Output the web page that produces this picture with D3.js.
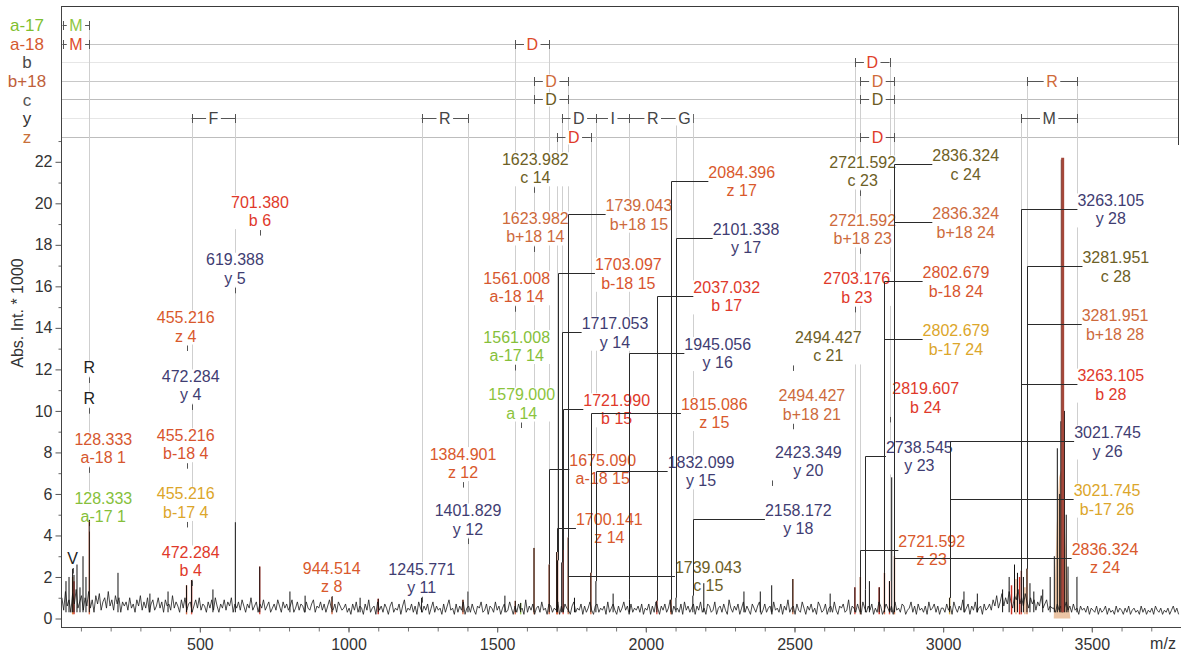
<!DOCTYPE html>
<html>
<head>
<meta charset="utf-8">
<script src="https://cdn.jsdelivr.net/npm/d3@7/dist/d3.min.js"></script>
<style>
  html, body { margin: 0; padding: 0; background: #fff; }
  text { font-family: "Liberation Sans", Arial, Helvetica, sans-serif; }
</style>
</head>
<body>
<svg id="chart" width="1182" height="655"></svg>
<script>
// ---------- spectrum data (m/z, intensity in units of 1000 counts) ----------
// baseline noise on a 6 m/z grid, one run per stretch: [first m/z, values in tenths]
const noiseStep = 6;
const noiseLowMass = [36, [10,4,13,6,9,3,12,7,14,5,8,11,4,10,6,13,5,9,3,11,7,12,4,8,10,5,13,6,9,4,11,7,10,3,8,6]];
const noiseMidMass = [252, [8,4,10,5,7,3,9,6,11,4,8,5,10,3,7,9,4,6,10,5,8,3,9,6,7,4,11,5,8,6,3,9,5,10,4,7,8,3,6,9,5,10,4,7,6,3,8,5,9,4,10,6,3,7,5,9,4,8,6,10,3,7,5,8,4,9,6,3,7,5,10,4,6,8,3,7,5,9,4,6,8,3,5,7,4,9,6,3,8,5,7,4,6,9,3,5,8,4,7,6,3,8,5,4,7,9,3,6,5,8,4,7,3,6,9,5,4,7,3,8,6,4,5,7,3,6,4]];
const noiseUpperMass = [1002, [5,2,7,4,8,3,6,5,2,7,4,9,3,5,6,2,8,4,6,3,7,5,2,6,8,3,5,4,7,2,6,9,3,5,4,7,3,6,2,8,5,3,6,4,7,2,5,8,3,6,4,5,2,7,3,6,9,4,5,2,7,3,6,4,8,2,5,6,3,7,4,2,6,5,8,3,4,7,2,6,5,3,8,4,6,2,5,7,3,4,8,5,2,6,3,7,4,5,2,9,3,6,4,7,2,5,6,3,8,4,5,2,7,6,3,5,4,8,2,6,3,7,5,4,2,6,8,3,5,4,7,2,6,3,5,8,4,2,6,7,3,5,4,6,2,8,3,5,7,4,2,6,3,5,8,4,6,2,7,3,5,4,6,3,7,2,5]];
const noiseHighMass = [2004, [4,7,2,6,3,8,5,2,6,4,7,3,5,9,2,6,4,5,3,7,2,8,4,6,3,5,7,2,6,4,8,3,5,2,7,6,3,4,8,2,5,6,3,7,4,2,9,5,3,6,4,7,2,5,8,3,6,4,2,7,5,3,6,8,2,4,7,3,5,6,2,8,4,5,3,7,2,6,4,9,3,5,6,2,7,4,3,8,5,2,6,4,7,3,5,2,8,6,3,4,7,2,5,6,3,8,4,2,6,5,7,3,4,9,2,6,5,3,7,4,2,8,5,3,6,4,7,2,5,3,8,6,2,4,7,5,3,6,2,8,4,5,3,7,6,2,4,5,8,3,6,2,7,4,5,3,6,2,8,4,5,7,3,6,2,5,4]];
const noiseNearPrecursor = [3000, [5,3,7,4,6,2,8,5,3,6,4,9,3,5,7,2,6,4,8,3,5,6,2,7,4,5]];
const noisePrecursorShoulder = [3156, [7,4,9,6,11,5,8,12,6,10,7,13,8,5,11,9,14,7,10,6,12,8,5,10,7,9,4,8,6,11,5,7,9,4,6,5]];
const noiseAbovePrecursor = [3372, [5,3,7,4,6,3,5,8,4,6,3,7,4,5,2,6,4,5,3,6,2,5,4,3,6,2,5,3,4,6,2,5,3,4,2,6,3,5,4,2,5,3,6,2,4,5,3,4,2,6,3,5,2,4,3,5,2,6,4,3,5,2,4,3,5,2,4,6,3,5,2]];

// peak apexes of the measured trace [m/z, intensity]
const peaks = [
  [49.8,1.8],[60,2.0],[72.08,2.4],[76.7,2.1],[86.8,2.6],[96.9,1.5],[107,3.0],[117,2.0],[128.333,4.75],
  [224.7,2.2],[332,1.2],[393,1.3],[455.216,1.6],[472.284,1.85],[544,1.4],[619.388,4.64],[701.38,2.5],
  [803,1.3],[854,1.1],[944.514,1.05],[1039,1.0],[1100,0.95],[1245.771,1.0],[1384.901,0.9],[1401.829,1.3],
  [1526,1.1],[1561.008,0.85],[1579,0.75],[1623.982,3.4],[1675.09,2.6],[1700.141,3.2],[1703.097,2.8],
  [1717.053,2.7],[1721.99,3.3],[1739.043,3.9],[1760,1.0],[1815.086,2.2],[1832.099,1.8],[1890,1.2],
  [1945.056,0.9],[2037.032,0.85],[2084.396,0.9],[2101.338,1.0],[2158.172,1.1],[2195,1.7],[2330,1.3],
  [2385,1.3],[2423.349,1.6],[2494.427,1.9],[2620,1.2],[2703.176,1.5],[2721.592,2.0],[2738.545,1.4],
  [2752,1.8],[2785,1.5],[2802.679,2.2],[2819.607,1.8],[2827,6.8],[2836.324,3.0],[3021.745,1.0],
  [3070,1.3],[3115,1.2],[3200,1.4],[3222,2.0],[3240,2.6],[3250,2.2],[3263.105,2.3],[3270,2.0],
  [3281.951,2.4],[3292,1.7],[3305,1.3],[3335,1.4],[3360,2.0],[3374,3.0],[3384,8.2],[3392,6.0],
  [3396,9.5],[3402,22.2],[3408,10.0],[3414,5.0],[3420,2.5],[3450,2.0]
];

// coloured sticks of matched / isotope peaks [m/z, intensity, colour key]
const colouredSticks = [
  [72.08,2.0,"orange"],[76.7,1.8,"red"],[1100,0.95,"red"],[2785,1.5,"red"],
  [3230,1.6,"red"],[3245,1.9,"tan"],[3257,2.0,"red"],[3275,1.5,"tan"]
];
const precursorPeak = [3402, 22.2];

// calculated isotope envelope of the precursor
const isotopeEnvelope = [[3372,0],[3382,4.5],[3390,6.8],[3398,7.2],[3404,6.4],[3412,3.6],[3422,0.8],[3428,0]];

// ---------- fragment annotations ----------
const annMz = [
  72.08,128.333,128.333,128.333,128.333,455.216,472.284,455.216,455.216,472.284,
  701.380,619.388,944.514,1245.771,1384.901,1401.829,1623.982,1623.982,1561.008,1561.008,
  1579.000,1739.043,1703.097,1717.053,1721.990,1675.090,1700.141,1739.043,2084.396,2101.338,
  2037.032,1945.056,1815.086,1832.099,2158.172,2721.592,2836.324,2721.592,2836.324,2703.176,
  2802.679,2494.427,2802.679,2494.427,2819.607,2423.349,2738.545,2721.592,2836.324,3263.105,
  3281.951,3281.951,3263.105,3021.745,3021.745
];
const annIon = [
  "V","R","R","a-18 1","a-17 1","z 4","y 4","b-18 4","b-17 4","b 4",
  "b 6","y 5","z 8","y 11","z 12","y 12","c 14","b+18 14","a-18 14","a-17 14",
  "a 14","b+18 15","b-18 15","y 14","b 15","a-18 15","z 14","c 15","z 17","y 17",
  "b 17","y 16","z 15","y 15","y 18","c 23","c 24","b+18 23","b+18 24","b 23",
  "b-18 24","c 21","b-17 24","b+18 21","b 24","y 20","y 23","z 23","z 24","y 28",
  "c 28","b+18 28","b 28","y 26","b-17 26"
];
// label anchor of each annotation [m/z, intensity] (centre of label, gap between its lines)
const annLabelAt = [
  [72.08,3.37],[128.3,12.55],[128.3,11.07],[175.3,8.22],[175.3,5.39],[452.4,14.09],[469.2,11.25],[452.4,8.42],[452.4,5.59],[469.2,2.77],
  [702.3,19.65],[618.2,16.87],[943.5,2.01],[1246.2,1.97],[1385.1,7.51],[1401.9,4.79],[1628.3,21.71],[1628.3,18.86],[1565.7,15.98],[1565.7,13.15],
  [1582.5,10.38],[1977,19.48],[1941.1,16.63],[1896.3,13.79],[1902,10.1],[1855,7.21],[1877.2,4.37],[2210.1,2.07],[2322.5,21.08],[2337,18.34],
  [2272,15.54],[2241.8,12.81],[2230.3,9.92],[2185.6,7.11],[2512.8,4.81],[2729.5,21.56],[3075.8,21.89],[2729.5,18.77],[3075.8,19.08],[2709.3,15.95],
  [3043.2,16.25],[2613.7,13.13],[3043.2,13.45],[2558.5,10.32],[2941.3,10.65],[2546.5,7.59],[2919.9,7.83],[2961.6,3.31],[3544.4,2.92],[3563.9,19.73],
  [3580.8,16.98],[3578.3,14.18],[3563.9,11.29],[3552.8,8.55],[3551.1,5.75]
];

// ---------- sequence ladder: [ion series, residue, start m/z, end m/z] ----------
const ladderRows = ["a-17","a-18","b","b+18","c","y","z"];
const ladderSteps = [
  ["a-17","M",-2.707,128.333],
  ["a-18","M",-2.707,128.333],
  ["a-18","D",1561.008,1675.090],
  ["b","D",2703.176,2819.607],
  ["b+18","D",1623.982,1739.043],
  ["b+18","D",2721.592,2836.324],
  ["b+18","R",3281.951,3450],
  ["c","D",1623.982,1739.043],
  ["c","D",2721.592,2836.324],
  ["y","F",472.284,619.388],
  ["y","R",1245.771,1401.829],
  ["y","D",1717.053,1832.099],
  ["y","I",1832.099,1945.056],
  ["y","R",1945.056,2101.338],
  ["y","G",2101.338,2158.172],
  ["y","M",3263.105,3450],
  ["z","D",1700.141,1815.086],
  ["z","D",2721.592,2836.324]
];

const xTicks = [500,1000,1500,2000,2500,3000,3500];
const yTicks = [0,2,4,6,8,10,12,14,16,18,20,22];

// ---------- styles ----------
const ionColors = {
  "a-17":"#86bf3a", "a":"#8cc43c", "a-18":"#d6572e", "b":"#e0392a", "b-18":"#d8542e",
  "b-17":"#dca62a", "b+18":"#cd6a3c", "c":"#6d6026", "y":"#3f3d72", "z":"#d9592c", "imm":"#222"
};
const stickColors = { red:"#cf2f22", orange:"#e0893e", tan:"#e6b48e" };
const rowLabelColors = { "a-17":"#7fbf2f","a-18":"#d45a30","b":"#4a4a4a","b+18":"#c0603a","c":"#555","y":"#333","z":"#c8703a" };
const rowLetterColors = { "a-17":"#8dc63f","a-18":"#dd4a2a","b":"#e0402a","b+18":"#cf6a3a","c":"#6b5a22","y":"#444","z":"#e03a2a" };
const rowLineColors = { "a-18":"#c4c4c4","b":"#e6e6e6","b+18":"#c8c8c8","c":"#bdbdbd","y":"#e6e6e6","z":"#bdbdbd" };

// ---------- scales ----------
const svg = d3.select("#chart");
const x = d3.scaleLinear().domain([33, 3800]).range([61, 1181]);
const y = d3.scaleLinear().domain([0, 22]).range([618.5, 161.8]);
const rowY = d3.scalePoint().domain(ladderRows).range([25, 136.6]);
const crisp = v => Math.round(v) + 0.5;

const peakHeight = mz => {
  let best = null;
  peaks.forEach(p => {
    if (Math.abs(p[0] - mz) < 3 && (!best || Math.abs(p[0] - mz) < Math.abs(best[0] - mz))) best = p;
  });
  return best ? best[1] : 0.3;
};
const ionTypeOf = s => (s.indexOf(" ") < 0 ? "imm" : s.split(" ")[0]);

const gRows = svg.append("g");
const gGuide = svg.append("g");
const gLabelBg = svg.append("g");
const gSticks = svg.append("g");
const gTrace = svg.append("g");
const gLabelText = svg.append("g");
const gLeaders = svg.append("g");
const gLadder = svg.append("g");
const gAxes = svg.append("g");

// ladder frame and row lines
gRows.append("path")
  .attr("d", `M61,6.5H1178.5V145`)
  .attr("fill", "none").attr("stroke", "#3a3a3a").attr("stroke-width", 1);
ladderRows.forEach(r => {
  if (!rowLineColors[r]) return;
  gRows.append("line")
    .attr("x1", 62).attr("x2", 1178)
    .attr("y1", crisp(rowY(r))).attr("y2", crisp(rowY(r)))
    .attr("stroke", rowLineColors[r]).attr("stroke-width", 1);
});
ladderRows.forEach(r => {
  gRows.append("text")
    .attr("x", 27).attr("y", rowY(r)).attr("dy", "0.36em")
    .attr("text-anchor", "middle")
    .style("font-size", "17px")
    .attr("fill", rowLabelColors[r])
    .text(r);
});

// guide lines from the ladder down to the matched peaks
ladderSteps.forEach(([row, res, s, e]) => {
  [s, e].forEach(m => {
    if (m < x.domain()[0]) return;
    gGuide.append("line")
      .attr("x1", crisp(x(m))).attr("x2", crisp(x(m)))
      .attr("y1", rowY(row)).attr("y2", y(peakHeight(m)))
      .attr("stroke", "#cfcfcf").attr("stroke-width", 1);
  });
});

// coloured sticks of annotated peaks
const stickDrawn = new Set();
annMz.forEach((mz, i) => {
  const t = ionTypeOf(annIon[i]);
  if (t === "imm" || t === "y" || t === "c" || stickDrawn.has(mz)) return;
  stickDrawn.add(mz);
  gSticks.append("line")
    .attr("x1", x(mz)).attr("x2", x(mz))
    .attr("y1", y(0.2)).attr("y2", y(peakHeight(mz)))
    .attr("stroke", ionColors[t]).attr("stroke-width", 1.4).attr("opacity", 0.85);
});
gSticks.append("path")
  .datum(isotopeEnvelope)
  .attr("d", d3.area().x(d => x(d[0])).y0(y(0)).y1(d => y(d[1])))
  .attr("fill", "#e9bb95").attr("opacity", 0.85);
colouredSticks.forEach(([mz, h, key]) => {
  gSticks.append("line")
    .attr("x1", x(mz)).attr("x2", x(mz))
    .attr("y1", y(0.2)).attr("y2", y(h))
    .attr("stroke", stickColors[key]).attr("stroke-width", 1.4);
});

// measured trace: baseline noise and peak apexes
const noiseRuns = [noiseLowMass, noiseMidMass, noiseUpperMass, noiseHighMass,
                   noiseNearPrecursor, noisePrecursorShoulder, noiseAbovePrecursor];
let noisePts = [];
noiseRuns.forEach(([start, vals], k) => {
  const stop = k + 1 < noiseRuns.length ? noiseRuns[k + 1][0] : Infinity;
  vals.forEach((v, i) => {
    const m = start + i * noiseStep;
    if (m < stop && m <= 3800) noisePts.push([m, v / 10]);
  });
});
gTrace.append("path")
  .datum(noisePts)
  .attr("d", d3.line().x(d => x(d[0])).y(d => y(d[1])))
  .attr("fill", "none").attr("stroke", "#1a1a1a").attr("stroke-width", 0.8);
peaks.forEach(([mz, h]) => {
  if (mz === precursorPeak[0]) return;
  gTrace.append("line")
    .attr("x1", x(mz)).attr("x2", x(mz))
    .attr("y1", y(0.3)).attr("y2", y(h))
    .attr("stroke", "#111").attr("stroke-width", 1);
});
// precursor drawn as a broad brown-red line over the trace
gTrace.append("line")
  .attr("x1", x(precursorPeak[0])).attr("x2", x(precursorPeak[0]))
  .attr("y1", y(0.3)).attr("y2", y(precursorPeak[1]))
  .attr("stroke", "#a5473a").attr("stroke-width", 3);
gTrace.append("line")
  .attr("x1", x(precursorPeak[0]) - 1.5).attr("x2", x(precursorPeak[0]) - 1.5)
  .attr("y1", y(0.3)).attr("y2", y(precursorPeak[1]) + 2)
  .attr("stroke", "#5a2a22").attr("stroke-width", 0.6);

// annotation labels with ticks or elbow leaders
annMz.forEach((mz, i) => {
  const ion = annIon[i];
  const type = ionTypeOf(ion);
  const col = ionColors[type];
  const cx = x(annLabelAt[i][0]);
  const gy = y(annLabelAt[i][1]);
  const lines = type === "imm" ? [ion] : [mz.toFixed(3), ion];
  const baselines = type === "imm" ? [gy + 15.5] : [gy - 3, gy + 15.5];
  let w = 0;
  lines.forEach((t, k) => {
    const tx = gLabelText.append("text")
      .attr("x", cx).attr("y", baselines[k])
      .attr("text-anchor", "middle")
      .style("font-size", "16px")
      .attr("fill", col)
      .text(t);
    w = Math.max(w, tx.node().getComputedTextLength());
  });
  const top = baselines[0] - 12.5;
  const bottom = gy + 15.5 + 3;
  gLabelBg.append("rect")
    .attr("x", cx - w / 2 - 1).attr("y", top)
    .attr("width", w + 2).attr("height", bottom - top)
    .attr("fill", "#fff");
  const px = x(mz);
  const py = y(peakHeight(mz));
  const left = cx - w / 2, right = cx + w / 2;
  if (px >= left - 5 && px <= right + 5) {
    gLeaders.append("line")
      .attr("x1", crisp(px)).attr("x2", crisp(px))
      .attr("y1", gy + 15.5 + 4).attr("y2", gy + 15.5 + 9.5)
      .attr("stroke", "#555").attr("stroke-width", 1);
  } else {
    const edge = px < cx ? left : right;
    gLeaders.append("path")
      .attr("d", `M${crisp(px)},${py}V${crisp(gy)}H${edge}`)
      .attr("fill", "none").attr("stroke", "#2a2a2a").attr("stroke-width", 1);
  }
});

// sequence ladder brackets
ladderSteps.forEach(([row, res, s, e]) => {
  const ry = crisp(rowY(row));
  const x0 = Math.max(x(s), 62.5), x1 = x(e);
  const g = gLadder.append("g");
  g.append("path")
    .attr("d", `M${x0},${ry}H${x1}M${crisp(x0)},${ry - 4.5}V${ry + 4.5}M${crisp(x1)},${ry - 4.5}V${ry + 4.5}`)
    .attr("fill", "none").attr("stroke", "#555").attr("stroke-width", 1);
  const bg = g.append("rect").attr("fill", "#fff");
  const t = g.append("text")
    .attr("x", (x0 + x1) / 2).attr("y", ry).attr("dy", "0.36em")
    .attr("text-anchor", "middle")
    .style("font-size", "16px")
    .attr("fill", rowLetterColors[row])
    .text(res);
  const lw = t.node().getComputedTextLength();
  bg.attr("x", (x0 + x1) / 2 - lw / 2 - 2.5).attr("y", ry - 7)
    .attr("width", lw + 5).attr("height", 14);
});

// axes
const yAxis = d3.axisLeft(y).tickValues(yTicks).tickSize(6).tickPadding(3).tickFormat(d3.format("d"));
const yg = gAxes.append("g").attr("transform", "translate(61.5,0)").call(yAxis);
yg.select(".domain").remove();
yg.selectAll("text").style("font-size", "16px").attr("fill", "#333");
yg.selectAll("line").attr("stroke", "#555");
gAxes.append("g").attr("transform", "translate(61.5,0)")
  .call(d3.axisLeft(y).tickValues(d3.range(1, 24, 2)).tickSize(3).tickFormat(""))
  .call(g => g.select(".domain").remove())
  .selectAll("line").attr("stroke", "#666");
gAxes.append("line")
  .attr("x1", 61.5).attr("x2", 61.5).attr("y1", 6).attr("y2", 627.5)
  .attr("stroke", "#444").attr("stroke-width", 1);

const xAxis = d3.axisBottom(x).tickValues(xTicks).tickSize(5).tickPadding(6).tickFormat(d3.format("d"));
const xg = gAxes.append("g").attr("transform", "translate(0,627.5)").call(xAxis);
xg.select(".domain").remove();
xg.selectAll("text").style("font-size", "16px").attr("fill", "#333");
xg.selectAll("line").attr("stroke", "#555");
gAxes.append("g").attr("transform", "translate(0,627.5)")
  .call(d3.axisBottom(x).tickValues(d3.range(100, 3800, 100)).tickSize(4).tickFormat(""))
  .call(g => g.select(".domain").remove())
  .selectAll("line").attr("stroke", "#777");
gAxes.append("line")
  .attr("x1", 61).attr("x2", 1181).attr("y1", 627.5).attr("y2", 627.5)
  .attr("stroke", "#444").attr("stroke-width", 1);

gAxes.append("text")
  .attr("x", 1163).attr("y", 649)
  .attr("text-anchor", "middle").style("font-size", "16px").attr("fill", "#333")
  .text("m/z");
gAxes.append("text")
  .attr("transform", "translate(23,313) rotate(-90)")
  .attr("text-anchor", "middle").style("font-size", "16px").attr("fill", "#333")
  .text("Abs. Int. * 1000");
</script>
</body>
</html>
